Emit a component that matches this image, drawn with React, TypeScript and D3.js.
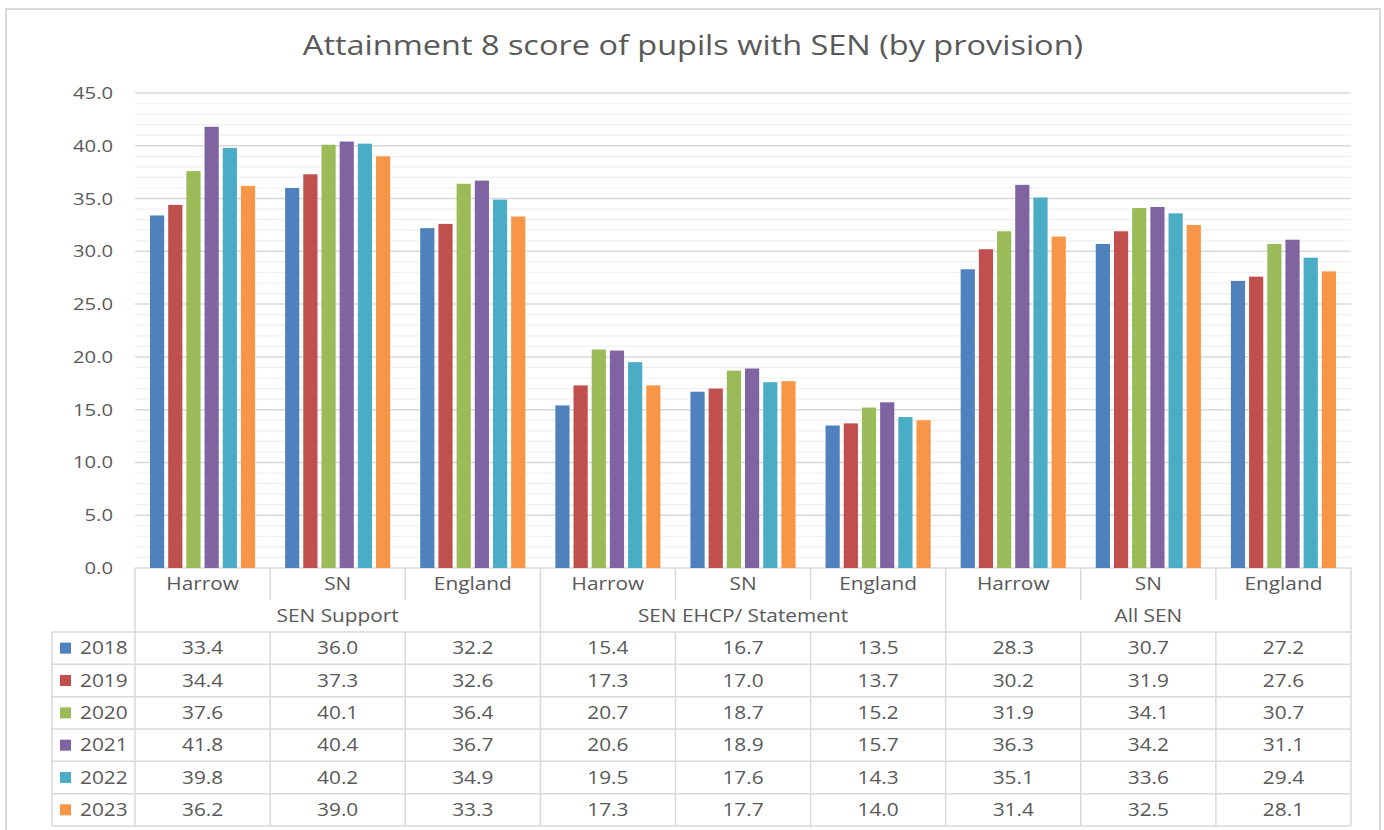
import React from "react";
import * as d3 from "d3";

const groups = ["SEN Support", "SEN EHCP/ Statement", "All SEN"];
const areas = ["Harrow", "SN", "England"];
const years = ["2018", "2019", "2020", "2021", "2022", "2023"];
const colors = ["#4F81BD", "#C0504D", "#9BBB59", "#8064A2", "#4BACC6", "#F79646"];

// values per year, in category order: SEN Support (Harrow, SN, England), EHCP (...), All SEN (...)
const v2018 = [33.4, 36.0, 32.2, 15.4, 16.7, 13.5, 28.3, 30.7, 27.2];
const v2019 = [34.4, 37.3, 32.6, 17.3, 17.0, 13.7, 30.2, 31.9, 27.6];
const v2020 = [37.6, 40.1, 36.4, 20.7, 18.7, 15.2, 31.9, 34.1, 30.7];
const v2021 = [41.8, 40.4, 36.7, 20.6, 18.9, 15.7, 36.3, 34.2, 31.1];
const v2022 = [39.8, 40.2, 34.9, 19.5, 17.6, 14.3, 35.1, 33.6, 29.4];
const v2023 = [36.2, 39.0, 33.3, 17.3, 17.7, 14.0, 31.4, 32.5, 28.1];
const series = [v2018, v2019, v2020, v2021, v2022, v2023];
const yTicks = [0, 5, 10, 15, 20, 25, 30, 35, 40, 45];

const W = 1384;
const H = 830;
const FONT = "'Open Sans', 'Noto Sans', sans-serif";
const TXT = "#595959";
const GRID = "#d9d9d9";
const FS = 17.5;
const SX = 1.19;

function T({ x, y, children, anchor = "middle", size = FS, sx = SX }: any) {
  return (
    <text
      transform={`translate(${x},${y + 1.5}) scale(${sx},1)`}
      textAnchor={anchor}
      dominantBaseline="middle"
      fontSize={size}
      fill={TXT}
    >
      {children}
    </text>
  );
}

export default function App() {
  const plotL = 135, plotR = 1351, plotT = 93, plotB = 568;
  const cats = groups.flatMap((g) => areas.map((a) => `${g}|${a}`));
  const x0 = d3.scaleBand<string>().domain(cats).range([plotL, plotR]);
  const cw = x0.bandwidth();
  const x1 = d3.scaleBand<string>().domain(years).range([cw * 0.111, cw * 0.889]).paddingInner(0.22);
  const y = d3.scaleLinear().domain([0, 45]).range([plotB, plotT]);
  const minor = d3.range(0, 45, 1).filter((v) => v % 5 !== 0);

  const rowCatB = 600;
  const headB = 632;
  const rowH = (826 - headB) / 6;
  const legL = 52;

  return (
    <div style={{ position: "fixed", left: 0, top: 0 }}>
      <svg width={W} height={H} style={{ display: "block", background: "#fff" }} fontFamily={FONT}>
        <rect x={6} y={9} width={1374} height={840} fill="#fff" stroke={GRID} strokeWidth={2} />
        <T x={693} y={46} size={28} sx={1.16}>
          Attainment 8 score of pupils with SEN (by provision)
        </T>
        {minor.map((v) => (
          <line key={"m" + v} x1={plotL} x2={plotR} y1={y(v)} y2={y(v)} stroke="#f0f0f0" strokeWidth={1.2} />
        ))}
        {yTicks.map((v) => (
          <g key={"t" + v}>
            <line x1={plotL} x2={plotR} y1={y(v)} y2={y(v)} stroke={GRID} strokeWidth={1.5} />
            <T x={113} y={y(v)} anchor="end" size={17}>
              {v.toFixed(1)}
            </T>
          </g>
        ))}
        {series.map((vals, si) =>
          vals.map((v, ci) => (
            <rect
              key={`b${si}-${ci}`}
              x={(x0(cats[ci]) ?? 0) + (x1(years[si]) ?? 0)}
              y={y(v)}
              width={x1.bandwidth()}
              height={y(0) - y(v)}
              fill={colors[si]}
            />
          ))
        )}
        {/* table */}
        <g stroke={GRID} strokeWidth={1.5} fill="none">
          <line x1={plotL} x2={plotL} y1={plotB} y2={826} />
          <line x1={plotR} x2={plotR} y1={plotB} y2={826} />
          {cats.map((c, i) => {
            if (i === 0) return null;
            const xx = x0(c) ?? 0;
            const full = i % 3 === 0;
            return (
              <g key={"v" + i}>
                <line x1={xx} x2={xx} y1={plotB} y2={rowCatB} />
                <line x1={xx} x2={xx} y1={full ? rowCatB : headB} y2={826} />
              </g>
            );
          })}
          {d3.range(7).map((r) => (
            <line key={"h" + r} x1={legL} x2={plotR} y1={headB + r * rowH} y2={headB + r * rowH} />
          ))}
          <line x1={legL} x2={legL} y1={headB} y2={826} />
        </g>
        {cats.map((c, i) => (
          <T key={"c" + i} x={(x0(c) ?? 0) + cw / 2} y={584}>
            {areas[i % 3]}
          </T>
        ))}
        {groups.map((g, gi) => (
          <T key={"g" + gi} x={(x0(cats[gi * 3 + 1]) ?? 0) + cw / 2} y={616}>
            {g}
          </T>
        ))}
        {years.map((yr, si) => {
          const cy = headB + rowH * (si + 0.5);
          return (
            <g key={"r" + si}>
              <rect x={60} y={cy - 5.5} width={11} height={11} fill={colors[si]} />
              <T x={80} y={cy} anchor="start">
                {yr}
              </T>
              {series[si].map((v, ci) => (
                <T key={ci} x={(x0(cats[ci]) ?? 0) + cw / 2} y={cy}>
                  {v.toFixed(1)}
                </T>
              ))}
            </g>
          );
        })}
      </svg>
    </div>
  );
}
